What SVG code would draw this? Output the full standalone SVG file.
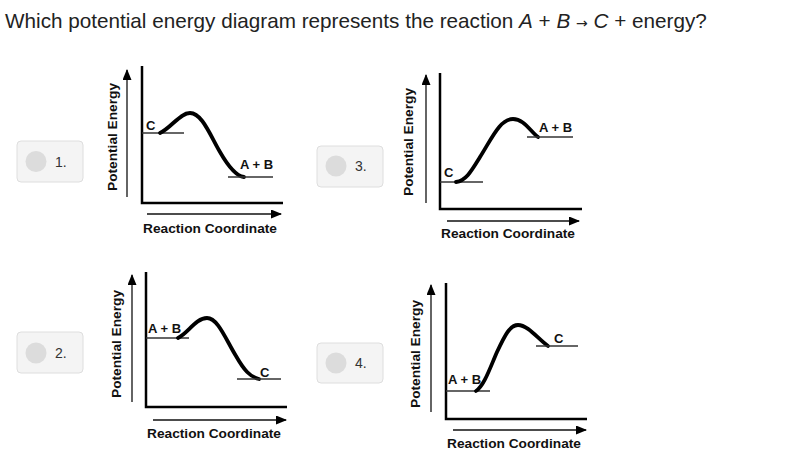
<svg xmlns="http://www.w3.org/2000/svg" width="800" height="462" viewBox="0 0 800 462">
<defs>
<style>
.title{font-family:"Liberation Sans",Arial,sans-serif;font-size:20.7px;fill:#222}
.btn{fill:#f4f4f4;stroke:#dedede;stroke-width:1}
.dot{fill:#dcdcdc}
.num{font-family:"Liberation Sans",Arial,sans-serif;font-size:14px;fill:#333}
.lab{font-family:"Liberation Sans",Arial,sans-serif;font-size:13.7px;font-weight:bold;fill:#111}
.sm{font-family:"Liberation Sans",Arial,sans-serif;font-size:13px;font-weight:bold;fill:#111}
.axis{fill:none;stroke:#000;stroke-width:2.5}
.arr{fill:none;stroke:#111;stroke-width:1.3}
.lvl{fill:none;stroke:#333;stroke-width:1.5}
.curve{fill:none;stroke:#000;stroke-width:3.8;stroke-linecap:round;stroke-linejoin:round}
</style>
<marker id="ah" markerUnits="userSpaceOnUse" markerWidth="12" markerHeight="10" refX="10" refY="4.5" orient="auto">
<path d="M0,0 L11,4.5 L0,9 Z" fill="#000"/>
</marker>
</defs>
<rect width="800" height="462" fill="#fff"/>
<text class="title" x="5" y="28">Which potential energy diagram represents the reaction <tspan font-style="italic">A</tspan> + <tspan font-style="italic">B</tspan> <tspan font-family="'DejaVu Sans',sans-serif" font-size="14">→</tspan> <tspan font-style="italic">C</tspan> + energy?</text>

<g id="option1">
<rect class="btn" x="17" y="141" width="66" height="41" rx="4"/>
<circle class="dot" cx="36" cy="161.5" r="10.5"/>
<text class="num" x="55" y="166.5">1.</text>
</g>
<g id="diagram1">
<line class="arr" x1="127" y1="197" x2="127" y2="70" marker-end="url(#ah)"/>
<text class="lab" transform="translate(117,137) rotate(-90)" text-anchor="middle">Potential Energy</text>
<path class="axis" d="M142,66 V203 H283"/>
<line class="arr" x1="147" y1="214" x2="281" y2="214" marker-end="url(#ah)"/>
<text class="lab" x="210" y="233" text-anchor="middle">Reaction Coordinate</text>
<line class="lvl" x1="142" y1="133" x2="184" y2="133"/>
<text class="sm" x="146" y="130">C</text>
<path class="curve" d="M160,133 C172,127 180,113 190,113 C202,113 210,135 220,152 C228,166 236,176 244,177"/>
<line class="lvl" x1="228" y1="177" x2="273" y2="177"/>
<text class="sm" x="240" y="169">A + B</text>
</g>

<g id="option3">
<rect class="btn" x="317" y="146" width="66" height="41" rx="4"/>
<circle class="dot" cx="336" cy="166" r="10.5"/>
<text class="num" x="355" y="171">3.</text>
</g>
<g id="diagram3">
<line class="arr" x1="426" y1="203" x2="426" y2="75" marker-end="url(#ah)"/>
<text class="lab" transform="translate(413,142) rotate(-90)" text-anchor="middle">Potential Energy</text>
<path class="axis" d="M440,73 V209 H582"/>
<line class="arr" x1="447" y1="221" x2="579" y2="221" marker-end="url(#ah)"/>
<text class="lab" x="508" y="238" text-anchor="middle">Reaction Coordinate</text>
<line class="lvl" x1="440" y1="182" x2="483" y2="182"/>
<text class="sm" x="444" y="177">C</text>
<path class="curve" d="M456,182 C466,181 472,170 480,157 C492,138 500,119 513,119 C524,119 530,131 538,137"/>
<line class="lvl" x1="527" y1="137" x2="573" y2="137"/>
<text class="sm" x="539" y="132">A + B</text>
</g>

<g id="option2">
<rect class="btn" x="17" y="332" width="66" height="41" rx="4"/>
<circle class="dot" cx="36" cy="353" r="10.5"/>
<text class="num" x="55" y="358">2.</text>
</g>
<g id="diagram2">
<line class="arr" x1="132" y1="402" x2="132" y2="275" marker-end="url(#ah)"/>
<text class="lab" transform="translate(121,344) rotate(-90)" text-anchor="middle">Potential Energy</text>
<path class="axis" d="M146,272 V407 H287"/>
<line class="arr" x1="153" y1="420" x2="286" y2="420" marker-end="url(#ah)"/>
<text class="lab" x="214" y="438" text-anchor="middle">Reaction Coordinate</text>
<line class="lvl" x1="146" y1="338" x2="189" y2="338"/>
<text class="sm" x="148" y="333">A + B</text>
<path class="curve" d="M178,338 C188,333 196,318 207,318 C218,318 226,340 236,356 C244,370 250,377 259,379"/>
<line class="lvl" x1="237" y1="379" x2="281" y2="379"/>
<text class="sm" x="260" y="377">C</text>
</g>

<g id="option4">
<rect class="btn" x="317" y="343" width="66" height="40" rx="4"/>
<circle class="dot" cx="336" cy="363" r="10.5"/>
<text class="num" x="355" y="368">4.</text>
</g>
<g id="diagram4">
<line class="arr" x1="431" y1="412" x2="431" y2="285" marker-end="url(#ah)"/>
<text class="lab" transform="translate(420,354) rotate(-90)" text-anchor="middle">Potential Energy</text>
<path class="axis" d="M446,283 V419 H587"/>
<line class="arr" x1="453" y1="430" x2="586" y2="430" marker-end="url(#ah)"/>
<text class="lab" x="514" y="448" text-anchor="middle">Reaction Coordinate</text>
<line class="lvl" x1="446" y1="391" x2="490" y2="391"/>
<text class="sm" x="448" y="384">A + B</text>
<path class="curve" d="M476,391 C484,386 490,368 497,352 C505,335 510,325 518,325 C528,325 538,339 548,346"/>
<line class="lvl" x1="536" y1="346" x2="578" y2="346"/>
<text class="sm" x="554" y="343">C</text>
</g>
</svg>
